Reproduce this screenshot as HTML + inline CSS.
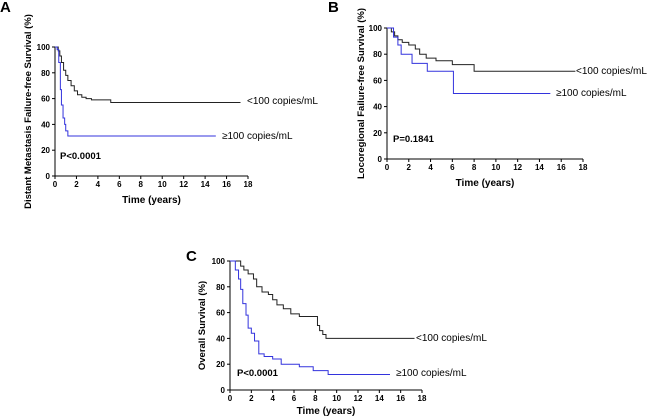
<!DOCTYPE html>
<html><head><meta charset="utf-8"><style>
html,body{margin:0;padding:0;background:#fff;}
svg{display:block;font-family:"Liberation Sans",Arial,sans-serif;}
</style></head><body>
<svg id="fig" width="650" height="420" viewBox="0 0 650 420"></svg>
<script>
const xTicks=[0,2,4,6,8,10,12,14,16,18];
const yTicks=[0,20,40,60,80,100];
// Panel A
const aLowT=[0,0.3,0.45,0.6,0.8,1.0,1.2,1.5,1.8,2.1,2.5,2.9,3.4,5.2,17.3];
const aLowS=[100,97,93,88,82,78,74,70,66,63,61,60,59,57,57];
const aHighT=[0,0.2,0.35,0.5,0.6,0.75,0.9,1.0,1.2,15];
const aHighS=[100,98,88,67,55,45,40,35,31,31];
// Panel B
const bLowT=[0,0.4,0.7,1.0,1.4,2.0,2.6,3.0,3.6,4.5,6.0,8.0,17.3];
const bLowS=[100,97,94,91,89,87,84,80,77,75,72,67,67];
const bHighT=[0,0.6,1.0,1.3,2.3,3.7,6.1,15];
const bHighS=[100,93,87,80,73,67,50,50];
// Panel C
const cLowT=[0,1.0,1.3,1.7,2.2,2.5,3.0,3.6,4.0,4.4,5.0,5.7,6.5,8.2,8.4,8.7,9.0,17.3];
const cLowS=[100,96,93,90,86,80,76,74,70,66,63,59,57,50,46,43,40,40];
const cHighT=[0,0.5,0.8,1.0,1.2,1.5,1.7,2.0,2.3,2.7,3.2,4.0,4.8,6.5,7.8,9.2,15];
const cHighS=[100,93,86,78,67,58,48,44,38,28,26,24,20,18,15,12,12];

const svg=document.getElementById('fig');
const NS='http://www.w3.org/2000/svg';
function mk(tag,attrs,parent){const e=document.createElementNS(NS,tag);for(const k in attrs)e.setAttribute(k,attrs[k]);(parent||svg).appendChild(e);return e;}
function txt(s,x,y,size,weight,anchor,parent){const t=mk('text',{x:x,y:y,'font-size':size,'font-weight':weight,'text-anchor':anchor||'start',fill:'#000'},parent);t.textContent=s;return t;}

function panel(p){
  const g=mk('g',{});
  
  
  const sx=v=>p.x0+(p.x1-p.x0)*v/18;
  const sy=v=>p.y0-(p.y0-p.y1)*v/100;
  const lbl=txt(p.id,p.lx,p.ly,15,'bold','start',g);
  
  
  const ax=mk('path',{d:`M${p.x0},${p.y1} V${p.y0} H${p.x1}`,stroke:'#000','stroke-width':1,fill:'none'},g);
  
  
  xTicks.forEach(v=>{mk('line',{x1:sx(v),x2:sx(v),y1:p.y0,y2:p.y0+3,stroke:'#000'},g);
    const t=txt(String(v),sx(v),p.y0+11,8,'bold','middle',g);
    
    });
  yTicks.forEach(v=>{mk('line',{x1:p.x0-3,x2:p.x0,y1:sy(v),y2:sy(v),stroke:'#000'},g);
    const t=txt(String(v),p.x0-5,sy(v)+3,8,'bold','end',g);
    
    });
  const xt=txt('Time (years)',(p.x0+p.x1)/2,p.y0+p.xto,10,'bold','middle',g);
  
  
  const yc=(p.y0+p.y1)/2;
  const yt=txt(p.ytitle,p.ytx,yc,9.5,'bold','middle',g);
  yt.setAttribute('transform',`rotate(-90 ${p.ytx} ${yc})`);
  
  
  function step(T,S,color,name){
    let d=`M${sx(T[0])},${sy(S[0])}`;
    for(let i=1;i<T.length;i++){d+=` H${sx(T[i])} V${sy(S[i])}`;}
    const l=mk('path',{d:d,stroke:color,'stroke-width':1,fill:'none'},g);
    
    
  }
  step(p.lowT,p.lowS,'#222','series-below-100');
  step(p.highT,p.highS,'#3333dd','series-above-100');
  const l1=txt('<100 copies/mL',p.l1x,p.l1y,10,'normal','start',g);
  
  
  const l2=txt('≥100 copies/mL',p.l2x,p.l2y,10,'normal','start',g);
  
  
  const pv=txt(p.pval,p.px,p.py,9.5,'bold','start',g);
  
  
}
panel({id:'A',x0:55,x1:248,y0:176,y1:47,lx:0,ly:12,xto:27,ytitle:'Distant Metastasis Failure-free Survival (%)',ytx:31,
  lowT:aLowT,lowS:aLowS,highT:aHighT,highS:aHighS,l1x:247,l1y:104,l2x:222,l2y:139,pval:'P<0.0001',px:60,py:159});
panel({id:'B',x0:387,x1:583,y0:159,y1:28,lx:328,ly:12,xto:27,ytitle:'Locoregional Failure-free Survival (%)',ytx:364,
  lowT:bLowT,lowS:bLowS,highT:bHighT,highS:bHighS,l1x:576,l1y:74,l2x:556,l2y:96,pval:'P=0.1841',px:393,py:142});
panel({id:'C',x0:230,x1:422,y0:390,y1:261,lx:186,ly:261,xto:24,ytitle:'Overall Survival (%)',ytx:205,
  lowT:cLowT,lowS:cLowS,highT:cHighT,highS:cHighS,l1x:416,l1y:341,l2x:396,l2y:376,pval:'P<0.0001',px:237,py:376});
</script>
</body></html>
